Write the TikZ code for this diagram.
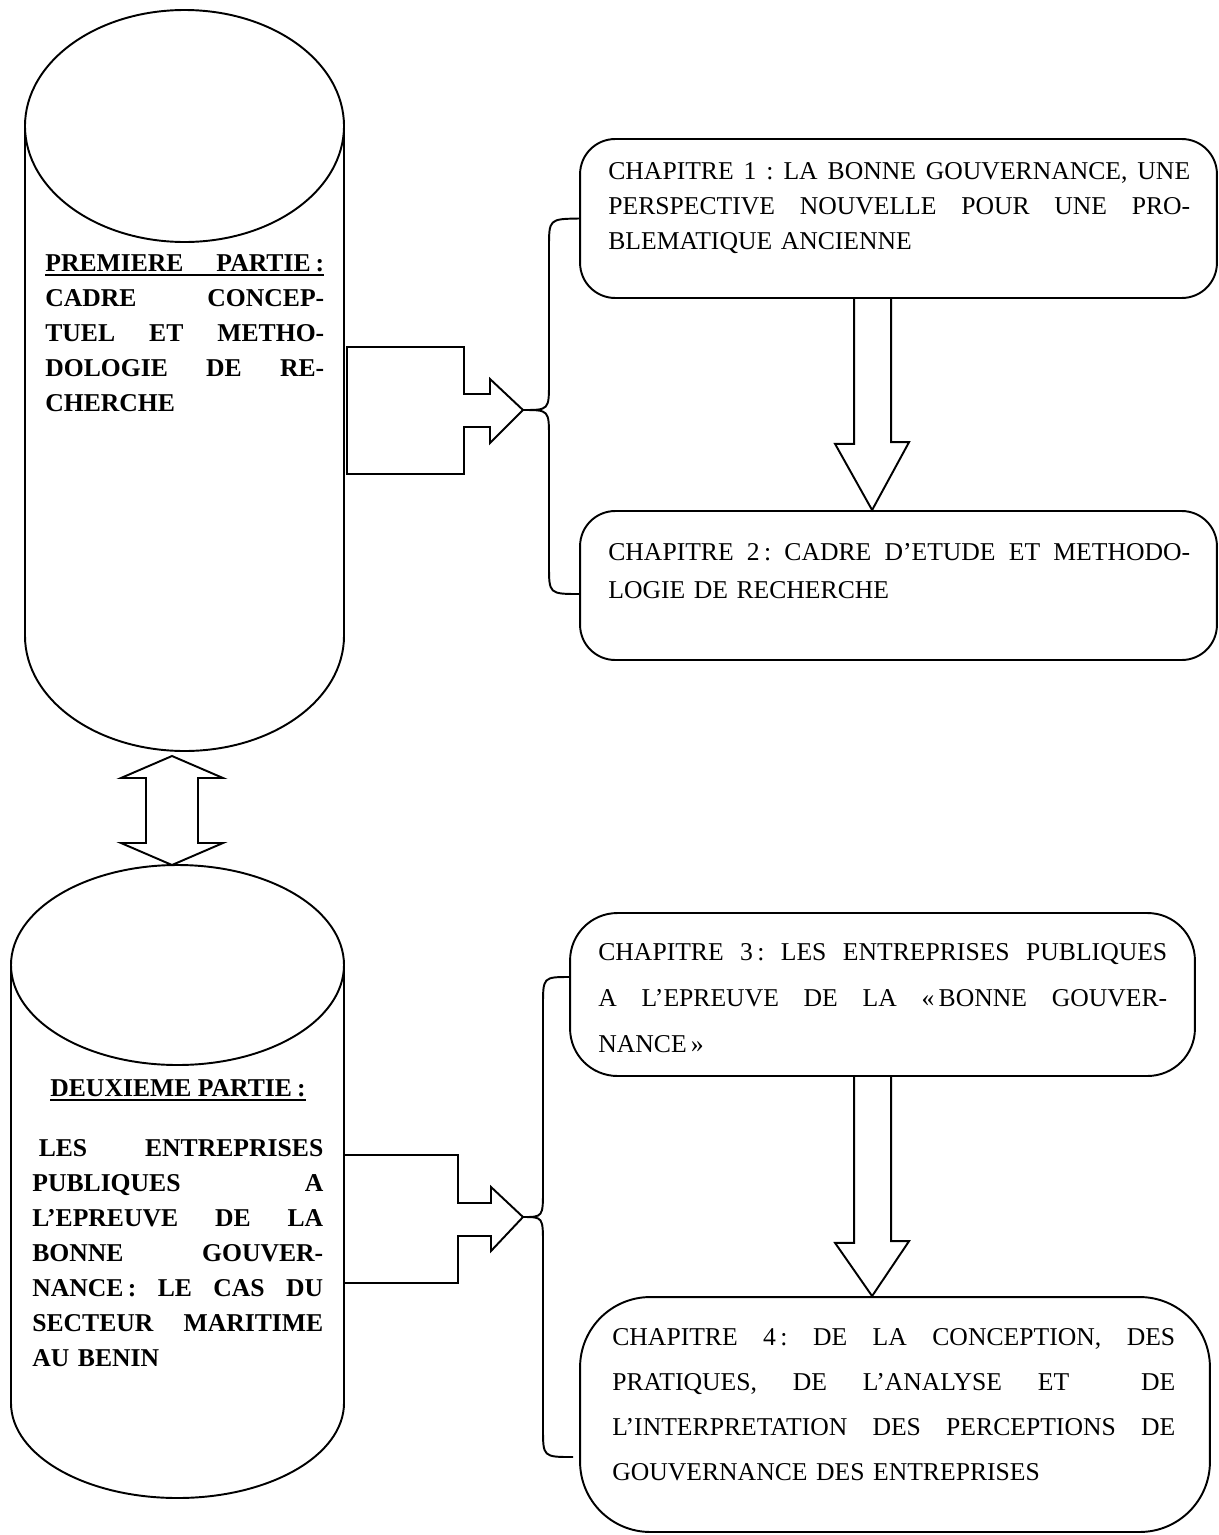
\documentclass[tikz,border=0pt]{standalone}
\usepackage{fontspec}
\setmainfont{Liberation Serif}
\usetikzlibrary{calc}
\frenchspacing
\newcommand{\jline}[1]{\makebox[\hsize][s]{\spaceskip=.25em plus 1fil\relax#1}}
\newcommand{\partline}[1]{\setbox0\hbox{#1}\rlap{\raisebox{-2.6pt}{\rule{\wd0}{1.1pt}}}\box0}

\begin{document}
\begin{tikzpicture}[x=0.02cm, y=-0.02cm,
  outline/.style={line width=1.1pt},
  chap/.style={draw, line width=1.1pt, inner sep=0pt},
  txt/.style={inner sep=0pt, anchor=north west, align=left}]
\useasboundingbox (0,0) rectangle (1219,1535);

\draw[outline] (184.5,126) ellipse [x radius=159.5, y radius=116];
\draw[outline] (25,126) -- (25,636) arc[start angle=180, end angle=0, x radius=159.5, y radius=115] -- (344,126);

\draw[outline] (177.5,965) ellipse [x radius=166.5, y radius=100];
\draw[outline] (11,965) -- (11,1403) arc[start angle=180, end angle=0, x radius=166.5, y radius=95] -- (344,965);

\draw[outline] (172,756) -- (223,778) -- (198,778) -- (198,843) -- (223,843) -- (172,865)
  -- (121,843) -- (146,843) -- (146,778) -- (121,778) -- cycle;

\node[txt, text width=5.58cm, font=\fontsize{14.6}{19.9}\selectfont\bfseries] (p1txt) at (45,254)
  {\partline{\jline{PREMIERE PARTIE\kern.2em:}}\\
   \jline{CADRE CONCEP-}\\
   \jline{TUEL ET METHO-}\\
   \jline{DOLOGIE DE RE-}\\
   CHERCHE};

\node[inner sep=0pt, anchor=base, font=\fontsize{14.6}{19.9}\selectfont\bfseries] (p2head) at (178,1096)
  {\partline{DEUXIEME PARTIE\kern.2em:}};
\node[txt, text width=5.82cm, font=\fontsize{14.6}{19.9}\selectfont\bfseries] (p2txt) at (32,1139)
  {\jline{\kern.25em LES ENTREPRISES}\\
   \jline{PUBLIQUES A}\\
   \jline{L’EPREUVE DE LA}\\
   \jline{BONNE GOUVER-}\\
   \jline{NANCE\,: LE CAS DU}\\
   \jline{SECTEUR MARITIME}\\
   AU BENIN};

\node[chap, rounded corners=20, minimum width=12.74cm, minimum height=3.18cm] (ch1) at (898.5,218.5) {};
\node[chap, rounded corners=20, minimum width=12.74cm, minimum height=2.98cm] (ch2) at (898.5,585.5) {};
\node[chap, rounded corners=27, minimum width=12.5cm, minimum height=3.26cm] (ch3) at (882.5,994.5) {};
\node[chap, rounded corners=40, minimum width=12.6cm, minimum height=4.7cm] (ch4) at (895,1414.5) {};

\node[txt, text width=11.64cm, font=\fontsize{14.6}{19.9}\selectfont] (c1txt) at (608,162)
  {\jline{CHAPITRE 1 : LA BONNE GOUVERNANCE, UNE}\\
   \jline{PERSPECTIVE NOUVELLE POUR UNE PRO-}\\
   BLEMATIQUE ANCIENNE};
\node[txt, text width=11.64cm, font=\fontsize{14.6}{21.6}\selectfont] (c2txt) at (608,543)
  {\jline{CHAPITRE 2\,: CADRE D’ETUDE ET METHODO-}\\
   LOGIE DE RECHERCHE};
\node[txt, text width=11.38cm, font=\fontsize{14.6}{26.2}\selectfont] (c3txt) at (598,943)
  {\jline{CHAPITRE 3\,: LES ENTREPRISES PUBLIQUES}\\
   \jline{A L’EPREUVE DE LA «\,BONNE GOUVER-}\\
   NANCE\,»};
\node[txt, text width=11.26cm, font=\fontsize{14.6}{25.6}\selectfont] (c4txt) at (612,1328)
  {\jline{CHAPITRE 4\,: DE LA CONCEPTION, DES}\\
   \jline{PRATIQUES, DE L’ANALYSE ET \ DE}\\
   \jline{L’INTERPRETATION DES PERCEPTIONS DE}\\
   GOUVERNANCE DES ENTREPRISES};

\coordinate (tip1) at (523,410);
\coordinate (tip2) at (523,1217);

\draw[outline] (347,347) -- (464,347) -- (464,394) -- (490,394) -- (490,379) -- (tip1)
  -- (490,443) -- (490,427) -- (464,427) -- (464,474) -- (347,474) -- cycle;
\draw[outline] (344,1155) -- (458,1155) -- (458,1203) -- (491,1203) -- (491,1187) -- (tip2)
  -- (491,1251) -- (491,1236) -- (458,1236) -- (458,1283) -- (344,1283);

\draw[outline] (ch1.west) .. controls (549,219) .. (549,248) -- (549,382) .. controls (549,410) .. (tip1)
  .. controls (549,410) .. (549,438) -- (549,565) .. controls (549,594) .. (580,594);
\draw[outline] (570,977) .. controls (543,977) .. (543,1006) -- (543,1189) .. controls (543,1217) .. (tip2)
  .. controls (543,1217) .. (543,1245) -- (543,1428) .. controls (543,1457) .. (573,1457);

\draw[outline] ($(ch1.south west)+(275,0)$) -- ++(0,145) -- ++(-19,0) -- ($(ch2.north west)+(293,0)$)
  -- ++(37,-68) -- ++(-18,0) -- ++(0,-145);
\draw[outline] ($(ch3.south west)+(285,0)$) -- ++(0,166) -- ++(-19,0) -- ($(ch4.north west)+(293,0)$)
  -- ++(37,-55) -- ++(-18,0) -- ++(0,-166);

\end{tikzpicture}
\end{document}
